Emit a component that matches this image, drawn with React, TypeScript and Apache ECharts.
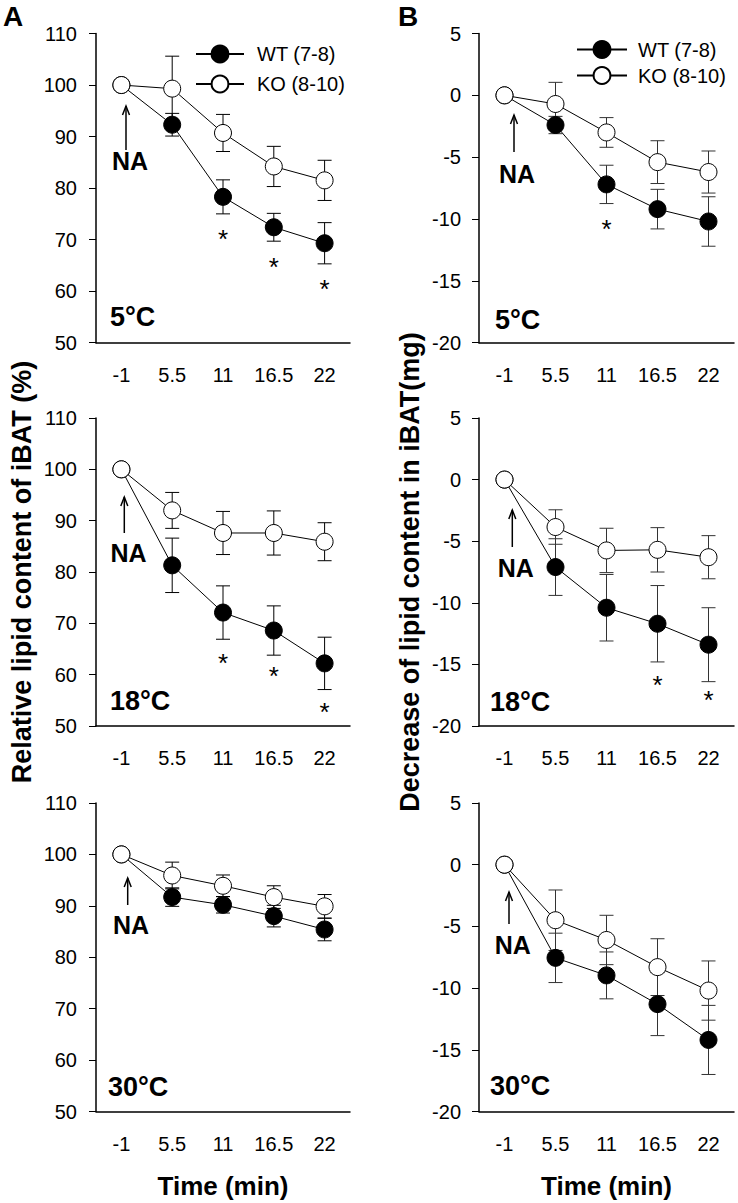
import React, { useEffect, useRef } from "react";
import * as echarts from "echarts";

// ---------- data ----------
const timeLabels = ["-1", "5.5", "11", "16.5", "22"];

// Panel A: relative lipid content of iBAT (%)
const aWT5 = [100, 92.3, 78.3, 72.4, 69.3];
const aWT5Err = [0, 2.2, 3.3, 2.7, 4.0];
const aKO5 = [100, 99.3, 90.7, 84.2, 81.5];
const aKO5Err = [0, 6.3, 3.6, 3.9, 3.9];
const aWT18 = [100, 81.3, 72.1, 68.6, 62.2];
const aWT18Err = [0, 5.3, 5.2, 4.8, 5.1];
const aKO18 = [100, 92.0, 87.6, 87.6, 85.9];
const aKO18Err = [0, 3.5, 4.2, 4.3, 3.7];
const aWT30 = [100, 91.7, 90.2, 88.0, 85.4];
const aWT30Err = [0, 1.8, 1.6, 2.1, 2.2];
const aKO30 = [100, 95.9, 93.9, 91.7, 89.9];
const aKO30Err = [0, 2.6, 2.1, 2.2, 2.3];

// Panel B: decrease of lipid content in iBAT (mg)
const bWT5 = [0, -2.4, -7.2, -9.2, -10.2];
const bWT5Err = [0, 0.7, 1.55, 1.6, 2.0];
const bKO5 = [0, -0.7, -3.0, -5.4, -6.2];
const bKO5Err = [0, 1.75, 1.2, 1.73, 1.7];
const bWT18 = [0, -7.1, -10.4, -11.7, -13.4];
const bWT18Err = [0, 2.3, 2.7, 3.1, 3.0];
const bKO18 = [0, -3.85, -5.75, -5.7, -6.3];
const bKO18Err = [0, 1.4, 1.8, 1.8, 1.75];
const bWT30 = [0, -7.55, -8.97, -11.3, -14.2];
const bWT30Err = [0, 2.0, 1.9, 2.55, 2.8];
const bKO30 = [0, -4.5, -6.1, -8.3, -10.2];
const bKO30Err = [0, 2.45, 2.0, 2.3, 2.4];

// significance stars: [time index, value position]
const aStars5 = [[2, 71.3], [3, 65.9], [4, 61.6]];
const aStars18 = [[2, 63.5], [3, 60.9], [4, 53.8]];
const aStars30: number[][] = [];
const bStars5 = [[2, -10.3]];
const bStars18 = [[3, -16.2], [4, -17.4]];
const bStars30: number[][] = [];

const tempLabels = ["5°C", "18°C", "30°C"];
const wtName = "WT (7-8)";
const koName = "KO (8-10)";
const yTitleA = "Relative lipid content of iBAT (%)";
const yTitleB = "Decrease of lipid content in iBAT(mg)";
const xTitle = "Time (min)";

// ---------- layout ----------
const FONT = "Liberation Sans, Arial, Helvetica, sans-serif";
const gridTops = [33.5, 418, 803];
const gridHeights = [309.2, 308, 308.5];
const colLeft = [96, 479];
const colWidth = [254, 255];

// NA annotations: [arrowX, arrowTop, arrowBottom, textX, textY]
const naLayout = [
  [126, 106, 150, 130, 161],
  [124.3, 497, 533, 128.5, 553],
  [127.7, 878, 905, 131, 925],
  [514, 115, 152, 517, 174],
  [512.3, 510, 547, 515.7, 567.5],
  [509, 892, 924, 512.8, 945],
];
// temperature labels: [x(left), y(center)]
const tempLayout = [
  [110, 317],
  [110, 701],
  [108, 1087],
  [495, 320],
  [490, 702],
  [490, 1086],
];

const panels = [
  { col: 0, row: 0, wt: aWT5, wtE: aWT5Err, ko: aKO5, koE: aKO5Err, stars: aStars5 },
  { col: 0, row: 1, wt: aWT18, wtE: aWT18Err, ko: aKO18, koE: aKO18Err, stars: aStars18 },
  { col: 0, row: 2, wt: aWT30, wtE: aWT30Err, ko: aKO30, koE: aKO30Err, stars: aStars30 },
  { col: 1, row: 0, wt: bWT5, wtE: bWT5Err, ko: bKO5, koE: bKO5Err, stars: bStars5 },
  { col: 1, row: 1, wt: bWT18, wtE: bWT18Err, ko: bKO18, koE: bKO18Err, stars: bStars18 },
  { col: 1, row: 2, wt: bWT30, wtE: bWT30Err, ko: bKO30, koE: bKO30Err, stars: bStars30 },
];

function buildOption() {
  const grid: any[] = [];
  const xAxis: any[] = [];
  const yAxis: any[] = [];
  const series: any[] = [];
  const graphic: any[] = [];

  panels.forEach((p, i) => {
    const isA = p.col === 0;
    grid.push({
      left: colLeft[p.col],
      top: gridTops[p.row],
      width: colWidth[p.col],
      height: gridHeights[p.row],
      containLabel: false,
    });
    xAxis.push({
      type: "category",
      gridIndex: i,
      data: timeLabels,
      boundaryGap: true,
      axisLine: { onZero: false, lineStyle: { color: "#000", width: 1.5 } },
      axisTick: { alignWithLabel: true, length: 8, lineStyle: { color: "#000", width: 1 } },
      axisLabel: { color: "#000", fontSize: 20, fontFamily: FONT, margin: 22 },
      splitLine: { show: false },
      name: p.row === 2 ? xTitle : "",
      nameLocation: "middle",
      nameGap: 61,
      nameTextStyle: { color: "#000", fontSize: 26, fontWeight: "bold", fontFamily: FONT },
    });
    yAxis.push({
      type: "value",
      gridIndex: i,
      min: isA ? 50 : -20,
      max: isA ? 110 : 5,
      interval: isA ? 10 : 5,
      axisLine: { show: true, onZero: false, lineStyle: { color: "#000", width: 1.5 } },
      axisTick: { show: true, length: 7, lineStyle: { color: "#000", width: 1 } },
      axisLabel: { color: "#000", fontSize: 20, fontFamily: FONT, margin: isA ? 19 : 18 },
      splitLine: { show: false },
      name: p.row === 1 ? (isA ? yTitleA : yTitleB) : "",
      nameLocation: "middle",
      nameRotate: 90,
      nameGap: isA ? 60.5 : 55.5,
      nameTextStyle: { color: "#000", fontSize: 27, fontWeight: "bold", fontFamily: FONT },
    });

    const errColor = isA ? "#000" : "#333";
    const errSeries = (vals: number[], errs: number[], name: string) => ({
      type: "custom",
      name: name + " error",
      xAxisIndex: i,
      yAxisIndex: i,
      z: 1,
      silent: true,
      data: timeLabels.map((_, k) => [k, vals[k], errs[k]]),
      encode: { x: 0, y: 1 },
      renderItem: (params: any, api: any) => {
        const x = api.value(0);
        const y = api.value(1);
        const e = api.value(2);
        if (!e) return { type: "group", children: [] };
        const top = api.coord([x, y + e]);
        const bot = api.coord([x, y - e]);
        const hw = 7;
        const st = { stroke: errColor, lineWidth: 1 };
        return {
          type: "group",
          children: [
            { type: "line", shape: { x1: top[0], y1: top[1], x2: bot[0], y2: bot[1] }, style: st },
            { type: "line", shape: { x1: top[0] - hw, y1: top[1], x2: top[0] + hw, y2: top[1] }, style: st },
            { type: "line", shape: { x1: bot[0] - hw, y1: bot[1], x2: bot[0] + hw, y2: bot[1] }, style: st },
          ],
        };
      },
    });
    series.push(errSeries(p.wt, p.wtE, wtName));
    series.push(errSeries(p.ko, p.koE, koName));
    series.push({
      type: "line",
      name: wtName,
      xAxisIndex: i,
      yAxisIndex: i,
      z: 3,
      data: p.wt,
      symbol: "circle",
      symbolSize: 17,
      showAllSymbol: true,
      lineStyle: { color: "#000", width: 1 },
      itemStyle: { color: "#000", borderColor: "#000", borderWidth: 1 },
      emphasis: { disabled: true },
    });
    series.push({
      type: "line",
      name: koName,
      xAxisIndex: i,
      yAxisIndex: i,
      z: 4,
      data: p.ko,
      symbol: "circle",
      symbolSize: 17,
      showAllSymbol: true,
      lineStyle: { color: "#000", width: 1 },
      itemStyle: { color: "#fff", borderColor: "#000", borderWidth: 1 },
      emphasis: { disabled: true },
    });
    series.push({
      type: "custom",
      name: "significance",
      xAxisIndex: i,
      yAxisIndex: i,
      z: 5,
      silent: true,
      data: p.stars,
      encode: { x: 0, y: 1 },
      renderItem: (params: any, api: any) => {
        const pt = api.coord([api.value(0), api.value(1)]);
        return {
          type: "text",
          x: pt[0],
          y: pt[1] + 6,
          style: {
            text: "*",
            fontSize: 26,
            fontFamily: FONT,
            fill: "#000",
            textAlign: "center",
            textVerticalAlign: "middle",
          },
        };
      },
    });

    const na = naLayout[i];
    graphic.push({
      type: "line",
      shape: { x1: na[0], y1: na[1], x2: na[0], y2: na[2] },
      style: { stroke: "#000", lineWidth: 1.5 },
    });
    graphic.push({
      type: "polyline",
      shape: { points: [[na[0] - 3.5, na[1] + 9], [na[0], na[1]], [na[0] + 3.5, na[1] + 9]] },
      style: { stroke: "#000", lineWidth: 1.5, fill: null },
    });
    graphic.push({
      type: "text",
      x: na[3],
      y: na[4],
      style: {
        text: "NA",
        fontSize: 25,
        fontWeight: "bold",
        fontFamily: FONT,
        fill: "#000",
        textAlign: "center",
        textVerticalAlign: "middle",
      },
    });
    const tl = tempLayout[i];
    graphic.push({
      type: "text",
      x: tl[0],
      y: tl[1],
      style: {
        text: tempLabels[p.row],
        fontSize: 27,
        fontWeight: "bold",
        fontFamily: FONT,
        fill: "#000",
        textAlign: "left",
        textVerticalAlign: "middle",
      },
    });
  });

  graphic.push({
    type: "text",
    x: 13,
    y: 16,
    style: { text: "A", fontSize: 28, fontWeight: "bold", fontFamily: FONT, fill: "#000", textAlign: "center", textVerticalAlign: "middle" },
  });
  graphic.push({
    type: "text",
    x: 408,
    y: 16,
    style: { text: "B", fontSize: 28, fontWeight: "bold", fontFamily: FONT, fill: "#000", textAlign: "center", textVerticalAlign: "middle" },
  });

  const legendCommon = {
    orient: "vertical",
    padding: 0,
    itemHeight: 21,
    selectedMode: false,
    data: [wtName, koName],
    textStyle: { color: "#000", fontSize: 20, fontFamily: FONT },
  };

  return {
    animation: false,
    backgroundColor: "#fff",
    grid,
    xAxis,
    yAxis,
    series,
    graphic,
    legend: [
      { ...legendCommon, left: 195, top: 44, itemWidth: 48, itemGap: 10, textStyle: { ...legendCommon.textStyle, padding: [0, 0, 0, 8] } },
      { ...legendCommon, left: 576, top: 39.5, itemWidth: 50, itemGap: 6, textStyle: { ...legendCommon.textStyle, padding: [0, 0, 0, 6] } },
    ],
  };
}

export default function App() {
  const ref = useRef<HTMLDivElement>(null);
  useEffect(() => {
    if (!ref.current) return;
    const chart = echarts.init(ref.current, undefined, { renderer: "svg" });
    chart.setOption(buildOption() as any);
    return () => chart.dispose();
  }, []);
  return (
    <div
      ref={ref}
      style={{ position: "absolute", left: 0, top: 0, width: 738, height: 1203, background: "#fff" }}
    />
  );
}
